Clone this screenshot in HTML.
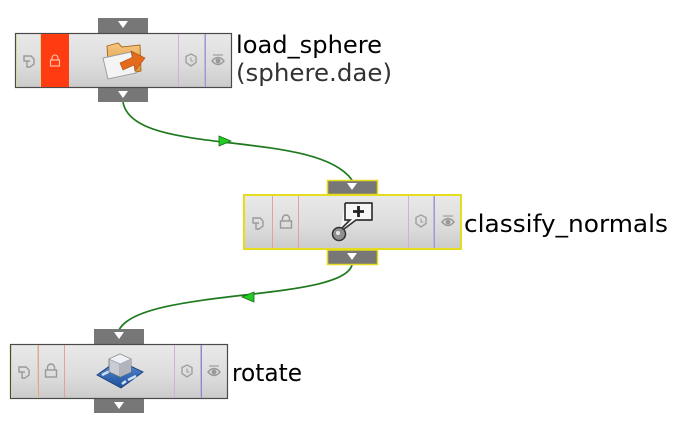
<!DOCTYPE html>
<html><head><meta charset="utf-8"><style>
html,body{margin:0;padding:0;background:#fff;}
svg{display:block;}
text{font-family:"DejaVu Sans","Liberation Sans",sans-serif;}
</style></head><body>
<svg width="680" height="428" viewBox="0 0 680 428" xmlns="http://www.w3.org/2000/svg">
<defs>
<linearGradient id="g" x1="0" y1="0" x2="0" y2="1">
<stop offset="0" stop-color="#e9e9e9"/><stop offset="0.6" stop-color="#dcdcdc"/><stop offset="1" stop-color="#cbcbcb"/>
</linearGradient>
<linearGradient id="fo" x1="0" y1="0" x2="0" y2="1">
<stop offset="0" stop-color="#f6c882"/><stop offset="1" stop-color="#d88a2a"/>
</linearGradient>
<linearGradient id="bl" x1="0" y1="0" x2="0" y2="1">
<stop offset="0" stop-color="#5b8fd6"/><stop offset="1" stop-color="#1e4f9a"/>
</linearGradient>
<g id="ico1"><path d="M-5,-4 L2,-4 L5,-1 L5,4 L1,7 L-2,7 L-2,1 L-5,1 Z M-2,1 L1,1" fill="none" stroke="#9a9a9a" stroke-width="1.4"/></g>
<g id="lock"><path d="M-3.5,-1 L-3.5,-3.5 A3.5,3.5 0 0 1 3.5,-3.5 L3.5,-1" fill="none" stroke="#999" stroke-width="1.4"/><rect x="-5.5" y="-1" width="11" height="7" fill="none" stroke="#999" stroke-width="1.4"/></g>
<g id="clk"><path d="M-5,-3.5 L0,-6 L5,-3.5 L5,2.5 L0,6 L-5,2.5 Z" fill="none" stroke="#a0a0a0" stroke-width="1.4"/><path d="M0,-2.5 L0,1 L2.5,1" fill="none" stroke="#a0a0a0" stroke-width="1.1"/></g>
<g id="eye"><path d="M-6,0 Q0,-7 6,0 Q0,7 -6,0 Z" fill="none" stroke="#999" stroke-width="1.4"/><circle r="2.5" fill="#999"/><path d="M-5,-6 L5,-6" stroke="#999" stroke-width="1.1"/></g>
</defs>

<!-- edges -->
<path d="M123,102 C132,158 315,128 352,180" fill="none" stroke="#1f7a1f" stroke-width="1.7"/>
<path d="M219,136 L231,141 L219,146 Z" fill="#22cc22" stroke="#1a6a1a" stroke-width="0.8"/>
<path d="M352,265 C342,302 140,288 119,330" fill="none" stroke="#1f7a1f" stroke-width="1.7"/>
<path d="M254,292 L242,297 L254,302 Z" fill="#22cc22" stroke="#1a6a1a" stroke-width="0.8"/>

<!-- node 1 -->
<rect x="98" y="18" width="50" height="15" fill="#777"/>
<path d="M118,21 L128,21 L123,28 Z" fill="#fff"/>
<rect x="98" y="88" width="50" height="14" fill="#777"/>
<path d="M118,91 L128,91 L123,98 Z" fill="#fff"/>
<rect x="15.5" y="33.5" width="216" height="54" fill="url(#g)" stroke="#4a4a4a" stroke-width="1.2"/>
<rect x="41" y="34" width="28" height="53" fill="#ff3b12"/>
<line x1="16.5" y1="34" x2="16.5" y2="87" stroke="#d4d898"/>
<line x1="40.5" y1="34" x2="40.5" y2="87" stroke="#d4d898"/>
<line x1="178.5" y1="34" x2="178.5" y2="87" stroke="#cdb0dc"/>
<line x1="204.5" y1="34" x2="204.5" y2="87" stroke="#cdb0dc"/>
<line x1="205.5" y1="34" x2="205.5" y2="87" stroke="#9a9ad0"/>
<use href="#ico1" x="29" y="60"/>
<g transform="translate(55,61)"><path d="M-3,-1 L-3,-3 A3,3 0 0 1 3,-3 L3,-1" fill="none" stroke="#ffc8b0" stroke-width="1.1"/><rect x="-4.5" y="-1" width="9" height="6" fill="none" stroke="#ffc8b0" stroke-width="1.1"/></g>
<use href="#clk" x="191" y="60"/>
<use href="#eye" x="218" y="61"/>
<!-- folder icon -->
<path d="M107,46 L118,43 L122,47 L140,45 L141,71 L109,78 Z" fill="url(#fo)" stroke="#a86418" stroke-width="0.9"/>
<path d="M103,58 L131,52 L136,73 L108,79 Z" fill="#f4f4f4" stroke="#9a9a9a" stroke-width="0.9"/>
<path d="M120,63 L133,57 L131,51 L145,58 L135,71 L134,65 L123,70 Z" fill="#e46a1c" stroke="#a84810" stroke-width="0.6"/>

<text x="236" y="53" font-size="24" fill="#000" textLength="146" lengthAdjust="spacingAndGlyphs">load_sphere</text>
<text x="236" y="81" font-size="24" fill="#333" textLength="156" lengthAdjust="spacingAndGlyphs">(sphere.dae)</text>

<!-- node 2 -->
<rect x="327.5" y="180.5" width="50" height="14" fill="#777" stroke="#e6dc1e" stroke-width="1.5"/>
<path d="M347,183 L357,183 L352,190 Z" fill="#fff"/>
<rect x="327.5" y="250" width="50" height="14.5" fill="#777" stroke="#e6dc1e" stroke-width="1.5"/>
<path d="M347,253 L357,253 L352,260 Z" fill="#fff"/>
<rect x="244" y="195" width="217" height="54" fill="url(#g)" stroke="#e6dc1e" stroke-width="2"/>
<line x1="272.5" y1="196" x2="272.5" y2="248" stroke="#e2a0a0"/>
<line x1="298.5" y1="196" x2="298.5" y2="248" stroke="#e2a0a0"/>
<line x1="408.5" y1="196" x2="408.5" y2="248" stroke="#cdb0dc"/>
<line x1="433.5" y1="196" x2="433.5" y2="248" stroke="#cdb0dc"/>
<line x1="434.5" y1="196" x2="434.5" y2="248" stroke="#9a9ad0"/>
<use href="#ico1" x="258" y="222"/>
<use href="#lock" x="286" y="222"/>
<use href="#clk" x="421" y="221"/>
<use href="#eye" x="448" y="222"/>
<!-- bubble icon -->
<path d="M345,203 L372,203 L372,220 L356,220 L340,232" fill="#f6f6f6" stroke="#333" stroke-width="1.7" stroke-linejoin="round"/>
<path d="M345,203 L345,220 L350,220 L338,232" fill="none" stroke="#333" stroke-width="1.7"/>
<path d="M358.5,206 L358.5,217 M353,211.5 L364,211.5" stroke="#222" stroke-width="2.8"/>
<circle cx="339" cy="234" r="6.5" fill="#909090" stroke="#333" stroke-width="1.5"/>
<circle cx="338" cy="233" r="2" fill="#e8e8e8"/>

<text x="464" y="232" font-size="24" fill="#000" textLength="204" lengthAdjust="spacingAndGlyphs">classify_normals</text>

<!-- node 3 -->
<rect x="94" y="329" width="50" height="15" fill="#777"/>
<path d="M114,332 L124,332 L119,339 Z" fill="#fff"/>
<rect x="94" y="399" width="50" height="14" fill="#777"/>
<path d="M114,402 L124,402 L119,409 Z" fill="#fff"/>
<rect x="10.5" y="344.5" width="217" height="54" fill="url(#g)" stroke="#4a4a4a" stroke-width="1.2"/>
<line x1="11.5" y1="345" x2="11.5" y2="398" stroke="#d4d898"/>
<line x1="37.5" y1="345" x2="37.5" y2="398" stroke="#d4d898"/>
<line x1="38.5" y1="345" x2="38.5" y2="398" stroke="#e2a0a0"/>
<line x1="64.5" y1="345" x2="64.5" y2="398" stroke="#e2a0a0"/>
<line x1="174.5" y1="345" x2="174.5" y2="398" stroke="#cdb0dc"/>
<line x1="200.5" y1="345" x2="200.5" y2="398" stroke="#cdb0dc"/>
<line x1="201.5" y1="345" x2="201.5" y2="398" stroke="#8a8ac8"/>
<use href="#ico1" x="24" y="371"/>
<use href="#lock" x="51" y="371"/>
<use href="#clk" x="187" y="371"/>
<use href="#eye" x="214" y="372"/>
<!-- cube icon -->
<path d="M97,375 L118,360 L143,372 L121,388 Z" fill="url(#bl)" stroke="#1a3f7a" stroke-width="0.9"/>
<path d="M102,375 L110,371 M128,380 L136,376 M113,365 L118,369 M122,384 L126,381" stroke="#cfe0f6" stroke-width="2.6"/>
<path d="M109,359 L120,354 L131,359 L131,372 L120,377 L109,372 Z" fill="#c9ccd2" stroke="#6a6e78" stroke-width="0.8"/>
<path d="M109,359 L120,354 L131,359 L120,364 Z" fill="#eef0f4" stroke="#8a8e98" stroke-width="0.6"/>
<path d="M120,364 L120,377" stroke="#8a8e98" stroke-width="0.8"/>
<path d="M120,364 L131,359 L131,372 L120,377 Z" fill="#b0b4bc"/>

<text x="232" y="381" font-size="24" fill="#000" textLength="70" lengthAdjust="spacingAndGlyphs">rotate</text>
</svg>
</body></html>
